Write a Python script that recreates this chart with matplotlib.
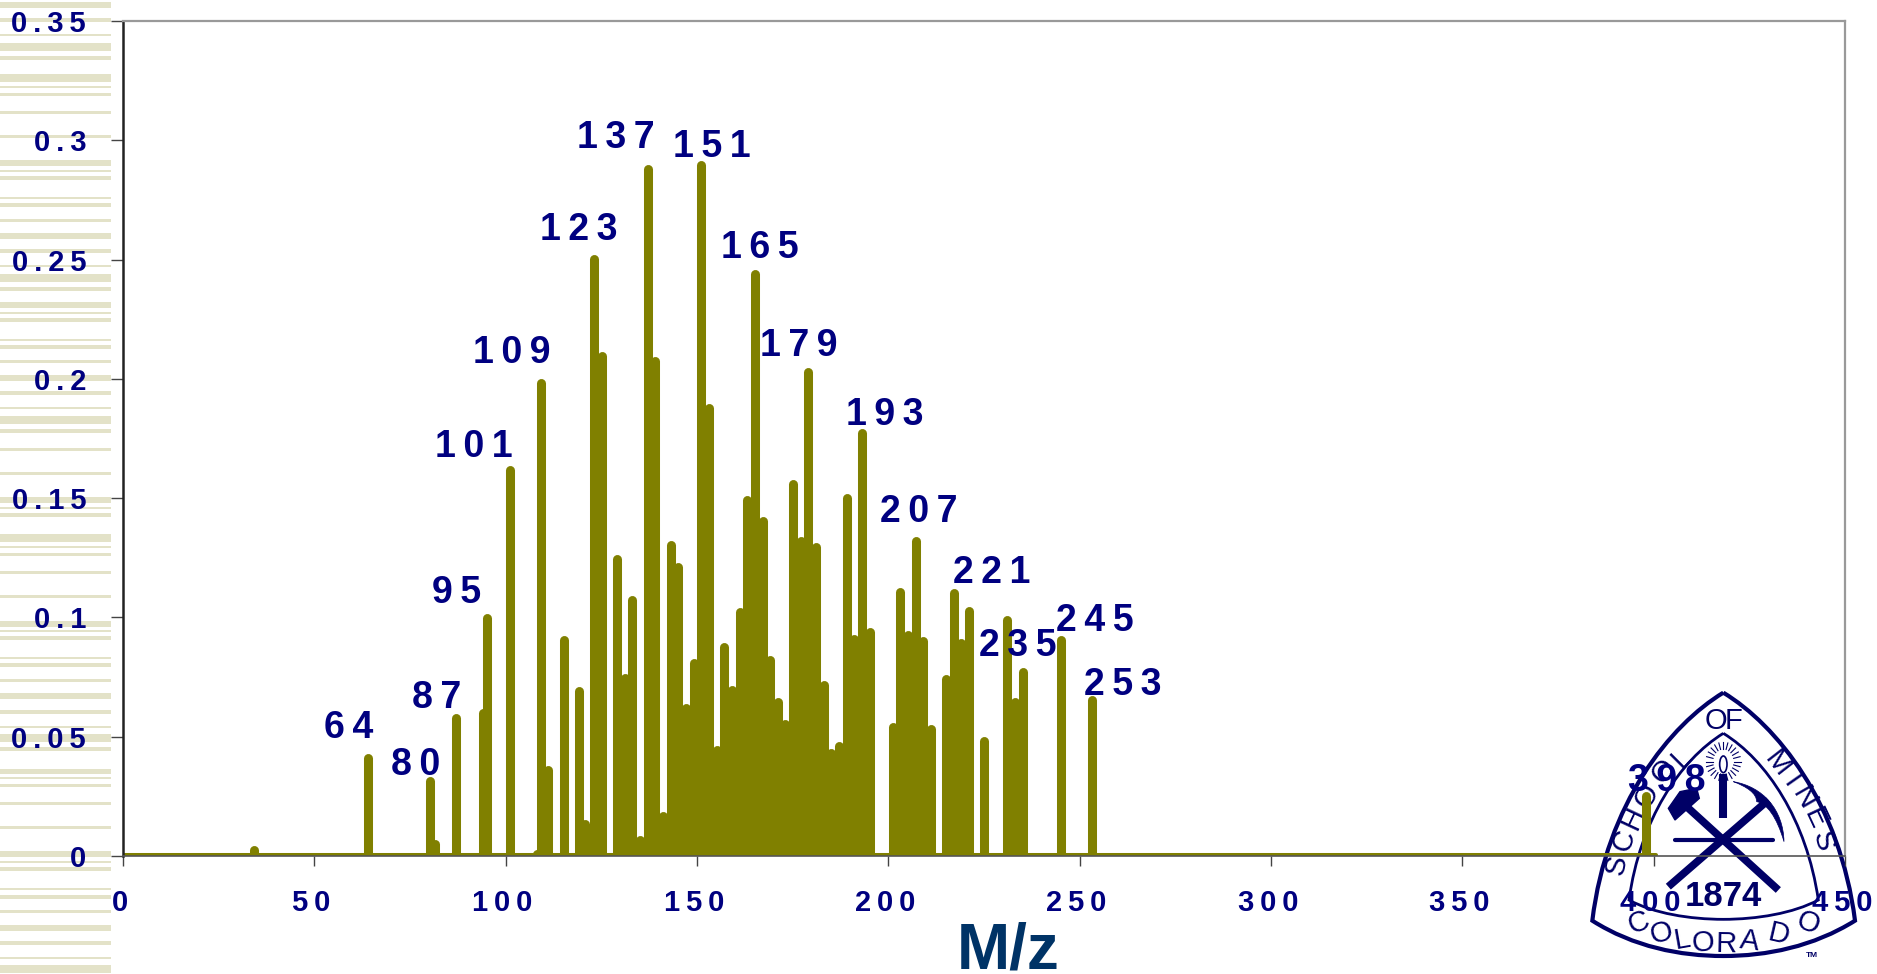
import matplotlib
matplotlib.use("Agg")
import matplotlib.pyplot as plt
from matplotlib.patches import PathPatch, Polygon, Ellipse
from matplotlib.path import Path
from matplotlib.transforms import ScaledTranslation
import math

plt.rcParams['font.family'] = ['Liberation Sans', 'DejaVu Sans']

mz = [34, 64, 80, 81.5, 87, 94, 95, 101, 108, 109, 111, 115, 119, 120.5, 123, 125, 129, 131, 133, 135,
      137, 139, 141, 143, 145, 147, 149, 151, 153, 155, 157, 159, 161, 163, 165, 167, 169, 171, 173, 175,
      177, 179, 181, 183, 185, 187, 189, 191, 193, 195, 201, 203, 205, 207, 209, 211, 215, 217, 219, 221,
      225, 231, 233, 235, 245, 253, 398]
intensity = [.0042, .0431, .0333, .007, .0598, .062, .1016, .1637, .0027, .2, .038, .0924, .071, .0153, .252, .2114, .1265, .0767, .1094, .0086,
             .29, .2094, .0188, .1322, .1229, .0639, .0829, .2914, .1898, .0463, .0894, .0714, .1043, .151, .2457, .1424, .084, .0665, .0571, .1578,
             .1339, .2049, .1316, .0737, .0449, .048, .1518, .093, .1792, .0959, .0561, .1127, .0947, .1339, .0918, .0551, .076, .112, .0912, .1046,
             .05, .1006, .0666, .0789, .0923, .0673, .0272]

peak_labels = [64, 80, 87, 95, 101, 109, 123, 137, 151, 165, 179, 193, 207, 221, 235, 245, 253, 398]
peak_offsets = [(-19, 29), (-14, 16), (-19, 19), (-30, 25), (-36, 22), (-28, 30), (-15, 29), (-31, 30), (11, 18),
                (5, 26), (-9, 25), (23, 17), (4, 29), (23, 37), (-5, 26), (34, 19), (32, 14), (21, 14)]

x_ticks = [0, 50, 100, 150, 200, 250, 300, 350, 400, 450]
y_ticks = [0, 0.05, 0.1, 0.15, 0.2, 0.25, 0.3, 0.35]
y_tick_labels = ["0", "0 . 0 5", "0 . 1", "0 . 1 5", "0 . 2", "0 . 2 5", "0 . 3", "0 . 3 5"]

# stripes on the left edge, pixel centre and height
stripes = [(5, 6), (20, 4), (35, 2), (47, 8), (58, 4), (78, 8), (87, 1.5), (94, 3), (112, 3), (136, 3), (163, 6), (171, 1.5),
           (178, 4), (198, 2), (205, 4), (220, 3), (236, 6), (251, 4), (266, 2), (278, 8), (289, 4), (305, 6), (313, 1.5),
           (320, 4), (340, 2), (347, 4), (361, 3), (378, 6), (393, 4), (408, 2), (420, 8), (431, 4), (449, 3), (473, 3),
           (500, 6), (508, 1.5), (515, 4), (538, 8), (547, 1.5), (554, 3), (572, 3), (596, 3), (624, 6), (631, 1.5), (638, 4),
           (658, 2), (665, 4), (680, 3), (696, 6), (712, 4), (727, 2), (738, 8), (749, 4), (771, 5), (778, 1.5), (785, 3),
           (803, 3), (827, 3), (854, 6), (862, 1.5), (869, 4), (889, 2), (897, 4), (911, 3), (928, 6), (943, 4), (958, 2), (969, 8)]

W, H = 1877, 974
olive = "#808000"
navy = "#000080"
seal = "#000066"
gap = "\u2009"  # the digits are spread apart in the original

fig = plt.figure(figsize=(W / 100, H / 100), dpi=100, facecolor="white")

# background layer in pixels
bg = fig.add_axes([0, 0, 1, 1], zorder=0)
bg.set_xlim(0, W)
bg.set_ylim(H, 0)
bg.axis("off")
for y, h in stripes:
    bg.fill_between([0, 111], y - h / 2, y + h / 2, color="#E3E2C8", lw=0)

# the seal, drawn in its own little axes
logo = fig.add_axes([1560 / W, 0, 317 / W, 304 / H], zorder=1)
logo.set_xlim(0, 951)
logo.set_ylim(912, 0)
logo.axis("off")

C = Path.CURVE4
outer = Path([(490, 68), (650, 165), (840, 400), (885, 752), (760, 830), (620, 858), (490, 858),
              (360, 858), (220, 830), (97, 752), (140, 400), (330, 165), (490, 68)],
             [Path.MOVETO] + [C] * 12)
inner = Path([(490, 190), (620, 270), (740, 450), (775, 690), (700, 730), (590, 748), (490, 748),
              (390, 748), (280, 730), (207, 690), (240, 450), (360, 270), (490, 190)],
             [Path.MOVETO] + [C] * 12)
logo.add_patch(PathPatch(outer, fc="white", ec=seal, lw=3))
logo.add_patch(PathPatch(inner, fc="white", ec=seal, lw=2))

logo.plot([380, 655], [410, 660], color=seal, lw=5.5, solid_capstyle="butt")
logo.plot([625, 325], [390, 650], color=seal, lw=5.5, solid_capstyle="butt")
logo.plot([345, 640], [510, 510], color=seal, lw=3, solid_capstyle="round")
logo.plot([490, 490], [312, 443], color=seal, lw=5.8, solid_capstyle="butt")
logo.add_patch(Polygon([(325, 415), (360, 365), (410, 355), (418, 385), (345, 450)], fc=seal, ec=seal))
pick = Path([(520, 335), (610, 350), (670, 420), (672, 515), (650, 440), (620, 400), (590, 395), (590, 370), (560, 350), (520, 335)],
            [Path.MOVETO] + [C] * 9)
logo.add_patch(PathPatch(pick, fc=seal, ec=seal, lw=0.5))
logo.add_patch(Ellipse((490, 283), 22, 50, fc="white", ec=seal, lw=1.2))
for i in range(24):
    a = math.radians(i * 15)
    logo.plot([490 + 32 * math.cos(a), 490 + 52 * math.cos(a)], [275 + 38 * math.sin(a), 275 + 58 * math.sin(a)], color=seal, lw=0.8)

logo_letters = [("O", 468, 152, 0), ("F", 520, 152, 0),
                ("S", 172, 585, 78), ("C", 192, 512, 72), ("H", 222, 445, 65), ("O", 262, 378, 58), ("O", 312, 305, 50), ("L", 365, 262, 45),
                ("M", 652, 282, -52), ("I", 695, 335, -55), ("N", 730, 385, -60), ("E", 765, 445, -65), ("S", 790, 515, -75),
                ("C", 235, 760, 20), ("O", 305, 790, 15), ("L", 368, 808, 10), ("O", 430, 820, 5),
                ("R", 500, 822, -1), ("A", 570, 815, -7), ("D", 655, 795, -13), ("O", 745, 760, -20)]
for ch, x, y, rot in logo_letters:
    logo.text(x, y, ch, color=seal, fontsize=21, rotation=rot, ha="center", va="center", rotation_mode="anchor")
logo.text(490, 680, "1874", color=seal, fontsize=25, fontweight="bold", ha="center", va="center")
logo.text(755, 857, "TM", color=seal, fontsize=6, fontweight="bold", ha="center", va="center")

# chart
ax = fig.add_axes([123 / W, (H - 856) / H, (1845 - 123) / W, (856 - 21) / H], zorder=2)
ax.patch.set_alpha(0)
ax.set_xlim(0, 450)
ax.set_ylim(0, 0.35)

cap = 4.5 / 2386  # round cap sticks out above the line end
ax.plot([0, 400.5], [0.0005, 0.0005], color=olive, lw=2.9, solid_capstyle="round")
ax.vlines([m + 0.12 for m in mz], 0, [v - cap for v in intensity], color=olive, lw=6.5, capstyle="round")

for m, (dx, dy) in zip(peak_labels, peak_offsets):
    v = intensity[mz.index(m)]
    ax.annotate(gap.join(str(m)), xy=(m, v), xytext=(dx, dy - 4), textcoords="offset pixels", color=navy,
                fontsize=27, fontweight="bold", ha="center", va="center", annotation_clip=False, zorder=5)

ax.set_xticks(x_ticks)
ax.set_xticklabels([gap.join(str(t)) for t in x_ticks], color=navy, fontsize=21, fontweight="bold")
ax.set_yticks(y_ticks)
ax.set_yticklabels([t.replace(" ", gap) for t in y_tick_labels], color=navy, fontsize=21, fontweight="bold")
ax.tick_params(axis="x", length=7.5, width=1, color="#444444", pad=16)
ax.tick_params(axis="y", length=8.6, width=1, color="#444444", pad=18)

# x labels sit a little left of their ticks
nudge = ScaledTranslation(-3 / 100, 0, fig.dpi_scale_trans)
for lab in ax.get_xticklabels():
    lab.set_transform(lab.get_transform() + nudge)

ax.spines["left"].set_color("#222222")
ax.spines["left"].set_linewidth(1.8)
ax.spines["top"].set_color("#999999")
ax.spines["top"].set_linewidth(1.6)
ax.spines["right"].set_color("#999999")
ax.spines["right"].set_linewidth(1.6)
ax.spines["bottom"].set_color("#555555")
ax.spines["bottom"].set_linewidth(1.2)

fig.text(1008 / W, 1 - 968 / H, "M/z", color="#003366", fontsize=46, fontweight="bold", ha="center", va="baseline")

fig.savefig("out.png", dpi=100)
